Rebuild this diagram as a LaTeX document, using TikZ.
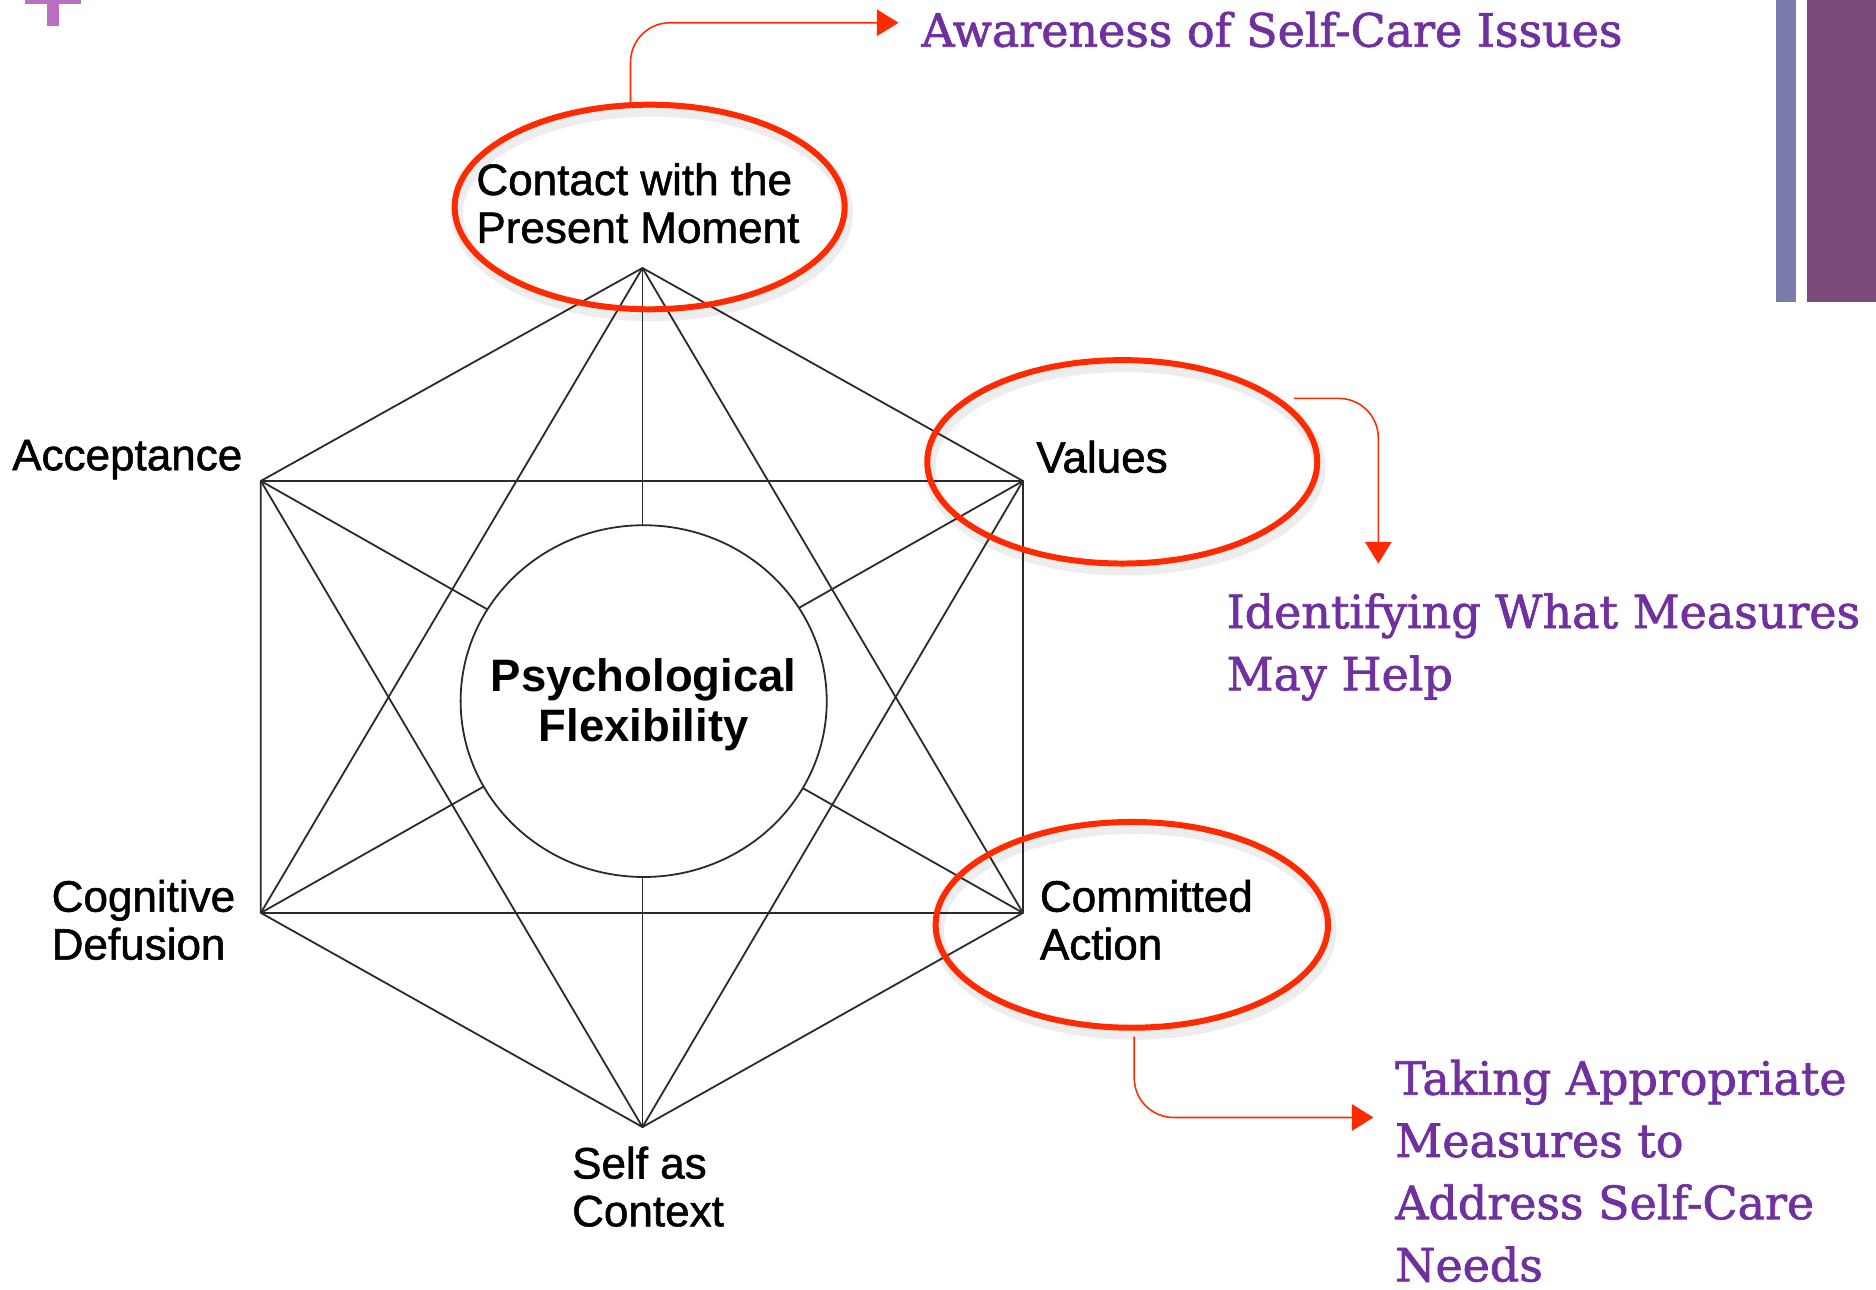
\documentclass[tikz,border=0pt]{standalone}
\usepackage{fontspec}
\setmainfont{Liberation Sans}
\newfontfamily\lblfont[FakeBold=1.2]{Liberation Sans}
\newfontfamily\slabfont[FakeBold=1.5]{DejaVu Serif}
\usetikzlibrary{arrows.meta,shapes.geometric}
\definecolor{ttlpurple}{HTML}{7030A0}
\definecolor{plusc}{HTML}{BA6FC2}
\definecolor{barblue}{HTML}{7A7DAC}
\definecolor{barpurple}{HTML}{7B4A78}
\definecolor{ringred}{HTML}{FF2A00}
\definecolor{diagline}{HTML}{2A2A2A}
\tikzset{
  diag/.style={draw=diagline, line width=1.5pt},
  lbl/.style={font=\lblfont\fontsize{36.8}{40}\selectfont, inner sep=0pt, anchor=base west, align=left, text=black},
  ttl/.style={font=\slabfont\fontsize{38.4}{52}\selectfont, text=ttlpurple, inner sep=0pt, anchor=base west, align=left},
  ring/.style={ellipse, draw=ringred, line width=5pt, inner sep=0pt},
  ringshadow/.style={ellipse, draw=black, draw opacity=0.07, line width=10pt, inner sep=0pt},
  conn/.style={draw=ringred, line width=1.3pt, -{Triangle[length=18pt,width=22pt]}, rounded corners=33pt},
}
\begin{document}
\begin{tikzpicture}[x=1pt,y=-1pt]
\useasboundingbox (0,0) rectangle (1568,1078);
\fill[white] (0,0) rectangle (1568,1078);

% decorations
\fill[plusc] (21,-10) rectangle (68,3.4);
\fill[plusc] (39.6,-10) rectangle (49.6,21.7);
\fill[barblue] (1484,-2) rectangle (1501,252);
\fill[barpurple] (1510,-2) rectangle (1570,252);

% hexagon vertices
\coordinate (T) at (537,224);
\coordinate (B) at (537,942);
\coordinate (A) at (218,402);
\coordinate (V) at (855,402);
\coordinate (D) at (218,763);
\coordinate (C) at (855,763);

\draw[diag] (T) -- (A) -- (D) -- (B) -- (C) -- (V) -- cycle;
\draw[diag] (A) -- (V);
\draw[diag] (D) -- (C);
\draw[diag] (T) -- (D);
\draw[diag] (T) -- (C);
\draw[diag] (B) -- (A);
\draw[diag] (B) -- (V);
\draw[diag] (T) -- (B);
\draw[diag] (A) -- (C);
\draw[diag] (V) -- (D);

\node[ellipse, draw=diagline, line width=1.5pt, fill=white, minimum width=306pt, minimum height=294pt, inner sep=0pt] (core) at (538,586) {};
\node[font=\bfseries\fontsize{38}{42}\selectfont, inner sep=0pt, align=center, anchor=base] (pf) at (538,620) {Psychological\\Flexibility};

% labels (anchored at the baseline of their last line)
\node[lbl] (cpm) at (398,203) {Contact with the\\Present Moment};
\node[lbl] (acc) at (10,393) {Acceptance};
\node[lbl] (val) at (866,395) {Values};
\node[lbl] (cog) at (43,802) {Cognitive\\Defusion};
\node[lbl] (com) at (869,802) {Committed\\Action};
\node[lbl] (sac) at (478,1025) {Self as\\Context};

% red rings
\node[ringshadow, minimum width=326pt, minimum height=171pt] at (545,178) {};
\node[ringshadow, minimum width=326pt, minimum height=170pt] at (940,391) {};
\node[ringshadow, minimum width=328pt, minimum height=172pt] at (948,778) {};
\node[ring, minimum width=326pt, minimum height=171pt] (topE) at (543,173) {};
\node[ring, minimum width=326pt, minimum height=170pt] (valE) at (938,386) {};
\node[ring, minimum width=328pt, minimum height=172pt] (comE) at (946,773) {};

% purple texts (anchored at the baseline of their last line)
\node[ttl] (aw) at (770,39) {Awareness of Self-Care Issues};
\node[ttl] (idt) at (1025,577) {Identifying What Measures\\May Help};
\node[ttl] (tk) at (1166,1071) {Taking Appropriate\\Measures to\\Address Self-Care\\Needs};

% connectors
\draw[conn] ([shift={(-16,5)}]topE.north) |- ([shift={(-19,-20)}]aw.base west);
\draw[conn] ([shift={(-22,-53)}]valE.east) -| ([shift={(127,-106)}]idt.base west);
\draw[conn] ([shift={(2,5)}]comE.south) |- ([shift={(-18,-137)}]tk.base west);
\end{tikzpicture}
\end{document}
